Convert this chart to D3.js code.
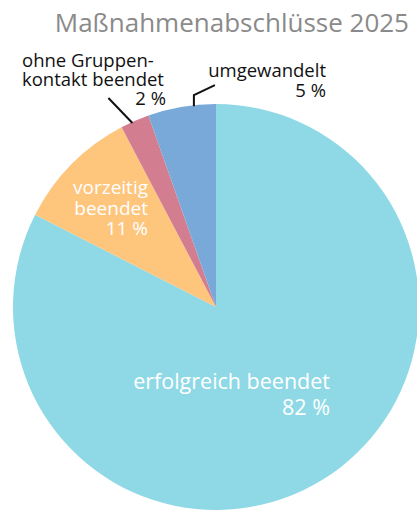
<!DOCTYPE html>
<html><head><meta charset="utf-8">
<script src="https://cdn.jsdelivr.net/npm/d3@7"></script>
<style>body{margin:0;background:#fff}svg{display:block}text{font-family:"Open Sans",sans-serif}</style>
</head><body><svg id="c" width="417" height="510"></svg>
<script>
const categories = ["erfolgreich beendet", "vorzeitig beendet", "ohne Gruppenkontakt beendet", "umgewandelt"];
const values = [82.5, 9.8, 2.3, 5.4];
// percentage labels as printed
const percentLabels = ["82 %", "11 %", "2 %", "5 %"];
const colors = ["#8fd9e6", "#fec57d", "#d37d91", "#79a9d8"];
const title = "Maßnahmenabschlüsse 2025";

const svg = d3.select("#c");
const cx = 216, cy = 307, r = 203;
const g = svg.append("g").attr("transform", `translate(${cx},${cy})`);
const pie = d3.pie().sort(null).value(d => d)(values);
const arc = d3.arc().innerRadius(0).outerRadius(r);
g.selectAll("path").data(pie).join("path").attr("d", arc).attr("fill", (d, i) => colors[i]);

svg.append("text").attr("x", 409).attr("y", 32).attr("text-anchor", "end")
  .attr("fill", "#8a8a8a").attr("font-size", 26).text(title);

function label(lines, x, y0, lh, size, fill, anchor) {
  const t = svg.append("text").attr("font-size", size).attr("fill", fill).attr("text-anchor", anchor || "end");
  lines.forEach((l, i) => t.append("tspan").attr("x", x).attr("y", y0 + i * lh).text(l));
  return t;
}
label(["erfolgreich beendet", percentLabels[0]], 330, 389, 26, 21.5, "#fff");
label(["vorzeitig", "beendet", percentLabels[1]], 148, 194, 20.5, 19, "#fff");
label(["ohne Gruppen-", "kontakt beendet"], 22, 67, 19, 18.5, "#111", "start");
label([percentLabels[2]], 166, 105, 19, 18.5, "#111");
label(["umgewandelt", percentLabels[3]], 326, 77, 20, 18.5, "#111");

// leader lines anchored on the slices
const mid = d => (d.startAngle + d.endAngle) / 2;
const pt = (a, rad) => [cx + rad * Math.sin(a), cy - rad * Math.cos(a)];
const line = d3.line();
const p2 = pie[2], p3 = pie[3];
const a2 = pt(mid(p2), r + 1);
svg.append("path").attr("d", line([[a2[0] - 2, a2[1] + 3], [a2[0] - 26, a2[1] - 22]]))
  .attr("stroke", "#111").attr("stroke-width", 2).attr("fill", "none");
const a3 = pt(mid(p3) + 0.06, r - 1);
svg.append("path").attr("d", line([a3, [a3[0], a3[1] - 11], [a3[0] + 21, a3[1] - 21]]))
  .attr("stroke", "#111").attr("stroke-width", 2).attr("fill", "none");
</script></body></html>
